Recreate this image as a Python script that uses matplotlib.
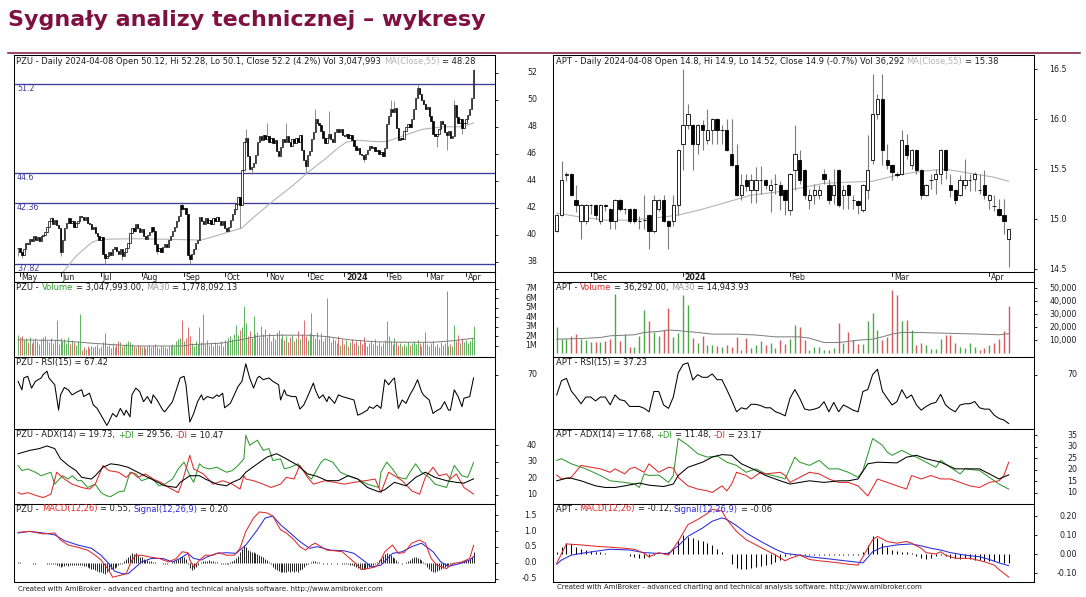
import numpy as np
import matplotlib
matplotlib.use("Agg")
import matplotlib.pyplot as plt
from matplotlib.transforms import blended_transform_factory

# ---------------- PZU, daily bars: index 0 = 2023-04-28 ... 236 = 2024-04-08
pzu_close = [
    39.0, 38.7, 38.5, 38.9, 39.4, 39.3, 39.7, 39.5, 39.9, 39.6, 39.8, 39.5, 39.9, 40.0, 40.2, 40.6, 41.0, 41.2, 40.8, 41.1, 40.7, 40.5,
    38.7, 39.6, 40.5, 40.9, 41.2, 40.9, 41.0, 40.6, 40.9, 41.0, 41.4, 41.3, 41.1, 41.3, 40.9, 40.8, 40.4, 40.6, 40.1, 39.9, 39.6,
    39.8, 38.6, 38.3, 38.4, 38.7, 38.5, 38.9, 39.1, 38.8, 38.6, 38.9, 38.4, 38.7, 39.0, 39.4, 40.1, 40.5, 40.3, 40.8, 40.5, 40.2,
    40.4, 39.9, 39.7, 40.0, 40.2, 40.6, 40.3, 39.3, 38.8, 39.0, 38.7, 39.1, 39.3, 39.1, 39.6, 39.9, 40.3, 40.6, 41.0, 41.4, 42.2, 41.9,
    42.0, 41.5, 38.5, 38.2, 38.6, 38.9, 39.4, 39.6, 41.3, 41.0, 40.8, 41.2, 40.9, 41.1, 40.8, 41.2, 41.0, 41.3, 41.0, 40.7, 41.0,
    40.5, 40.3, 40.6, 41.1, 41.5, 41.9, 42.3, 42.8, 42.2, 44.8, 46.9, 47.2, 45.8, 44.9, 45.0, 45.3, 45.9, 46.9, 47.3, 47.0, 47.4, 47.1,
    47.3, 46.9, 47.2, 46.8, 47.0, 46.2, 45.8, 46.5, 47.1, 46.9, 47.3, 46.9, 46.6, 47.1, 46.8, 47.2, 46.9, 47.4, 46.3, 45.5, 45.1,
    45.9, 46.2, 47.1, 47.6, 48.6, 48.3, 48.1, 47.7, 47.2, 46.8, 47.2, 47.5, 47.1, 46.9, 47.6, 47.8, 47.6, 47.8, 47.4,
    47.3, 47.5, 47.2, 47.4, 47.0, 46.6, 46.3, 46.4, 46.0, 45.9, 45.6, 46.0, 46.3, 46.6, 46.4, 46.5, 46.2, 46.3, 46.0, 46.1, 45.8, 46.4,
    48.2, 48.8, 49.3, 49.1, 49.4, 47.9, 47.0, 47.2, 47.1, 47.7, 48.0, 48.2, 48.0, 48.6, 49.3, 50.1, 50.9, 50.4, 50.0, 49.7, 49.3,
    49.5, 48.8, 48.4, 47.5, 47.3, 47.5, 47.8, 48.4, 48.2, 47.6, 47.4, 47.7, 47.2, 47.3, 49.6, 48.7, 48.3, 48.6, 47.9, 48.3,
    48.6, 48.9, 49.3, 50.1, 52.2,
]
pzu_last_open = 50.12
pzu_hi_idx = [85, 118, 129, 139, 154, 161, 193, 195, 207, 226, 236]
pzu_hi = [42.4, 47.8, 48.3, 48.3, 49.3, 49.2, 50.0, 49.9, 51.2, 50.0, 52.28]
pzu_lo_idx = [0, 2, 22, 45, 54, 72, 89, 115, 121, 149, 179, 217, 222, 230, 236]
pzu_lo = [38.4, 38.3, 38.4, 37.82, 38.1, 38.6, 37.82, 40.5, 44.5, 44.6, 45.4, 46.5, 46.3, 47.5, 50.1]
pzu_levels = [51.2, 44.6, 42.36, 37.82]
pzu_ma_idx = [22, 30, 38, 42, 60, 80, 95, 107, 116, 123, 133, 142, 150, 159, 166, 170, 176, 185, 191, 199, 209, 220, 230, 236]
pzu_ma = [37.0, 38.4, 39.4, 39.65, 39.7, 39.65, 39.6, 40.1, 40.5, 41.4, 42.6, 43.6, 44.6, 45.6, 46.45, 46.85, 47.0, 46.9, 46.9, 47.3, 47.8, 48.0, 48.0, 48.28]
pzu_vol = [  # millions of shares
    2.1, 1.9, 2.0, 1.6, 1.8, 1.4, 1.9, 1.3, 1.6, 1.8, 1.5, 1.2, 1.7, 1.9, 2.0, 1.6, 1.4, 1.8, 1.3, 1.6, 3.7, 1.2,
    1.8, 1.5, 1.7, 1.3, 1.9, 1.2, 1.6, 1.4, 1.1, 1.5, 4.3, 0.5, 0.8, 0.6, 0.9, 0.7, 1.0, 0.8, 0.9, 1.2, 0.7,
    1.0, 1.4, 2.3, 0.9, 1.1, 0.7, 1.3, 0.8, 1.2, 1.5, 1.4, 0.9, 1.1, 1.3, 1.5, 1.4, 1.2, 1.0, 0.8, 1.1, 0.9,
    0.8, 1.0, 0.7, 0.9, 1.1, 0.8, 0.9, 1.2, 0.8, 0.7, 1.0, 0.9, 0.8, 0.7, 1.0, 0.9, 1.2, 1.0, 1.5, 1.7, 1.8, 3.7,
    1.5, 1.8, 3.0, 2.0, 1.3, 1.0, 1.5, 1.2, 3.0, 1.4, 4.3, 1.2, 1.6, 1.1, 1.3, 1.0, 1.4, 1.2, 1.1, 1.5, 1.0,
    1.6, 1.4, 1.8, 2.0, 1.7, 2.2, 3.2, 2.1, 2.6, 3.0, 5.2, 3.4, 2.0, 2.5, 1.8, 4.1, 2.2, 2.4, 1.9, 3.1, 2.2, 2.8,
    1.9, 2.3, 1.5, 2.0, 1.7, 2.4, 2.6, 1.8, 2.2, 1.6, 2.0, 1.4, 1.9, 2.1, 1.5, 1.8, 2.5, 1.7, 2.2, 3.7, 2.0,
    1.6, 2.3, 4.4, 2.1, 1.8, 2.4, 1.7, 2.3, 1.5, 1.9, 6.0, 2.0, 1.4, 1.8, 1.6, 1.3, 2.0, 1.1, 1.7,
    1.2, 1.6, 1.0, 1.4, 1.7, 1.3, 1.5, 1.1, 1.6, 1.2, 1.9, 1.4, 1.0, 1.3, 1.5, 1.2, 1.7, 1.1, 1.4, 1.0, 1.3, 1.6,
    3.6, 2.0, 1.5, 1.2, 1.8, 1.4, 1.1, 1.3, 0.9, 1.2, 1.0, 1.4, 1.1, 1.3, 1.5, 1.2, 1.6, 1.3, 1.0, 1.4, 2.4,
    1.2, 0.9, 1.3, 1.5, 1.0, 1.2, 0.8, 1.4, 1.1, 1.3, 6.8, 1.0, 1.2, 0.9, 3.2, 1.5, 2.1, 1.3, 1.8, 1.4,
    1.6, 1.3, 1.5, 1.8, 3.05,
]
pzu_vma_idx = [0, 20, 38, 60, 85, 90, 105, 115, 125, 135, 150, 160, 172, 185, 200, 215, 225, 236]
pzu_vma = [1.6, 1.55, 1.25, 0.95, 0.95, 1.1, 1.25, 1.6, 2.0, 2.1, 2.1, 1.95, 1.6, 1.4, 1.35, 1.35, 1.5, 1.78]
pzu_rsi_idx = [0, 2, 3, 5, 7, 9, 12, 13, 15, 16, 19, 21, 22, 24, 26, 28, 31, 33, 34, 37, 39, 41, 43, 46, 47, 49, 51, 53, 55, 56,
               58, 59, 61, 63, 65, 67, 69, 70, 72, 75, 76, 78, 80, 82, 84, 86, 87, 89, 91, 93, 95, 96, 98, 101, 103, 104, 106, 107, 110, 112,
               114, 116, 118, 120, 122, 124, 125, 127, 130, 132, 135, 136, 138, 139, 142, 144, 146, 148, 150, 153, 154, 156, 158, 160, 161, 164, 166, 168, 171, 174,
               176, 178, 181, 182, 184, 186, 188, 190, 192, 194, 195, 197, 199, 201, 203, 205, 207, 209, 210, 213, 215, 216, 219, 221, 223, 224, 226, 228, 230, 231,
               234, 236]
pzu_rsi = [64.8, 58.3, 67.4, 68.7, 59.6, 64.8, 67.4, 70.0, 72.6, 67.4, 62.2, 42.7, 54.4, 60.1, 58.3, 54.4, 57.0, 58.3, 53.1, 55.7, 46.6, 44.0, 38.8, 31.0, 33.6, 40.1, 37.5, 44.0, 38.8, 42.7,
           37.5, 54.4, 59.6, 57.0, 49.2, 53.1, 47.9, 54.4, 50.5, 42.7, 41.4, 45.3, 49.2, 58.3, 67.4, 68.7, 62.2, 33.6, 40.1, 49.2, 54.4, 50.5, 53.1, 51.8, 54.4, 53.1, 55.7, 44.5, 47.9, 54.4,
           60.9, 64.8, 78.3, 67.4, 59.6, 67.4, 68.7, 66.1, 67.4, 64.8, 62.2, 50.5, 58.3, 54.4, 53.1, 53.1, 43.5, 46.6, 53.1, 63.5, 58.3, 51.8, 54.4, 49.2, 53.1, 47.9, 54.4, 53.1, 51.8, 50.5,
           38.8, 40.1, 42.7, 45.3, 44.0, 46.6, 44.0, 66.1, 62.2, 66.1, 67.4, 44.0, 50.5, 47.9, 54.4, 59.6, 66.1, 57.0, 54.4, 50.5, 40.1, 41.4, 44.0, 49.2, 42.7, 42.7, 58.3, 53.1, 45.3, 51.8,
           53.1, 67.42]
pzu_adx_idx = [0, 3, 6, 11, 15, 19, 22, 26, 30, 33, 38, 40, 44, 48, 52, 57, 62, 69, 76, 82, 84, 89, 94, 97, 103, 108, 111, 115, 118, 124,
               129, 134, 139, 145, 150, 155, 160, 166, 171, 176, 181, 187, 190, 195, 201, 206, 211, 216, 222, 227, 231, 236]
pzu_adx = [34.9, 35.9, 36.9, 38.0, 39.6, 38.0, 31.8, 27.8, 24.7, 20.6, 19.6, 21.6, 26.7, 28.8, 28.2, 26.7, 23.7, 19.6, 15.5, 14.5, 17.6, 21.6, 21.6, 19.6, 16.5, 15.5, 17.6, 19.6, 23.7, 28.8,
           32.9, 34.9, 31.8, 27.8, 22.7, 21.2, 18.6, 18.6, 21.6, 19.6, 14.5, 11.8, 13.1, 17.6, 15.5, 20.6, 23.7, 20.6, 18.6, 17.6, 17.1, 19.73]
pzu_pdi_idx = [0, 2, 5, 9, 12, 17, 19, 23, 26, 28, 31, 33, 36, 40, 43, 46, 48, 52, 55, 58, 61, 64, 69, 73, 76, 80, 83, 86, 89, 91,
               94, 96, 99, 103, 108, 111, 114, 117, 118, 120, 124, 127, 130, 132, 136, 138, 141, 145, 150, 152, 157, 159, 163, 167, 171, 176, 181, 187, 188, 191,
               194, 197, 201, 203, 206, 209, 213, 216, 222, 226, 230, 233, 236]
pzu_pdi = [27.8, 24.7, 25.7, 23.7, 21.6, 23.7, 16.5, 21.6, 19.6, 21.6, 18.6, 18.6, 14.5, 16.5, 11.4, 9.4, 9.0, 11.8, 12.4, 23.7, 22.7, 18.6, 20.6, 15.5, 16.5, 19.6, 25.7, 29.8, 21.6, 17.6,
           28.8, 26.7, 25.7, 26.7, 23.7, 24.7, 27.8, 31.8, 46.1, 40.0, 43.1, 36.9, 38.0, 30.8, 31.8, 25.7, 26.7, 28.8, 21.6, 19.6, 29.8, 31.8, 29.8, 23.7, 21.6, 19.6, 16.5, 14.5, 23.7, 29.8,
           25.7, 20.6, 19.6, 23.7, 28.8, 23.7, 20.6, 16.5, 14.5, 27.8, 21.6, 20.6, 29.56]
pzu_mdi_idx = [0, 2, 5, 10, 13, 17, 20, 24, 28, 33, 37, 40, 44, 47, 52, 56, 59, 62, 66, 70, 74, 78, 83, 85, 89, 91, 96, 101, 106, 111,
               115, 117, 118, 122, 127, 131, 136, 139, 143, 146, 150, 153, 159, 164, 169, 174, 180, 185, 188, 192, 195, 199, 204, 208, 211, 215, 218, 222, 224, 227,
               231, 236]
pzu_mdi = [11.4, 10.4, 11.4, 9.4, 8.4, 10.4, 23.7, 19.6, 16.5, 14.5, 13.5, 16.5, 27.8, 24.7, 23.7, 20.6, 23.7, 20.6, 22.7, 19.6, 17.6, 14.5, 11.4, 17.6, 33.9, 25.7, 22.7, 16.5, 18.6, 16.5,
           13.5, 21.6, 19.6, 18.6, 16.5, 14.5, 16.5, 20.6, 19.6, 27.8, 20.6, 16.5, 18.6, 17.6, 16.5, 17.6, 18.6, 19.6, 11.4, 23.7, 21.6, 18.6, 12.4, 10.4, 20.6, 26.7, 21.6, 22.7, 19.6, 22.7,
           14.5, 10.47]
pzu_macd_idx = [0, 6, 13, 19, 22, 26, 31, 36, 40, 43, 47, 49, 53, 56, 59, 61, 64, 68, 73, 78, 82, 85, 88, 89, 91, 94, 97, 101, 104, 108,
                112, 115, 118, 122, 125, 129, 132, 136, 139, 143, 146, 149, 152, 154, 157, 160, 164, 168, 171, 174, 178, 181, 185, 187, 190, 194, 197, 200, 204, 208,
                211, 214, 217, 222, 225, 230, 234, 236]
pzu_macd = [0.96, 0.99, 0.91, 0.94, 0.72, 0.56, 0.49, 0.40, 0.24, 0.09, -0.23, -0.45, -0.39, -0.34, 0.09, 0.24, 0.24, 0.19, 0.14, 0.03, 0.14, 0.35, 0.32, 0.09, -0.13, 0.09, 0.24, 0.24, 0.32, 0.24,
            0.24, 0.46, 0.99, 1.41, 1.60, 1.57, 1.47, 1.04, 0.94, 0.72, 0.51, 0.40, 0.56, 0.62, 0.51, 0.40, 0.38, 0.35, 0.19, 0.03, -0.21, -0.18, -0.13, -0.02, 0.35, 0.56, 0.30, 0.32, 0.62, 0.72,
            0.62, 0.14, -0.07, -0.18, -0.02, 0.03, 0.14, 0.55]
pzu_sig_idx = [0, 6, 13, 19, 24, 31, 38, 43, 47, 50, 54, 57, 61, 64, 69, 75, 80, 84, 88, 91, 95, 98, 103, 108, 113, 118, 124, 128, 132, 136,
               141, 146, 151, 155, 162, 169, 174, 180, 183, 188, 194, 199, 204, 209, 215, 219, 223, 229, 234, 236]
pzu_sig = [0.94, 0.99, 0.94, 0.88, 0.70, 0.56, 0.46, 0.24, -0.02, -0.26, -0.34, -0.34, -0.13, 0.03, 0.14, 0.14, 0.03, 0.14, 0.30, 0.14, 0.09, 0.19, 0.30, 0.32, 0.30, 0.56, 1.04, 1.41, 1.47, 1.20,
           0.94, 0.67, 0.46, 0.51, 0.40, 0.38, 0.30, 0.03, -0.13, -0.07, 0.30, 0.35, 0.51, 0.62, 0.35, 0.03, -0.11, -0.02, 0.09, 0.20]
pzu_hist = [
    0.02, 0.02, 0.01, 0.0, 0.01, 0.0, 0.0, -0.01, -0.02, -0.02,
    -0.01, -0.01, 0.0, -0.01, -0.01, -0.02, -0.02, -0.03, -0.04, -0.05,
    -0.08, -0.1, -0.12, -0.1, -0.09, -0.08, -0.1, -0.08, -0.07, -0.06,
    -0.07, -0.08, -0.06, -0.08, -0.1, -0.09, -0.12, -0.15, -0.18, -0.2,
    -0.22, -0.25, -0.28, -0.3, -0.33, -0.35, -0.3, -0.25, -0.2, -0.18,
    -0.15, -0.12, -0.08, -0.05, -0.03, 0.05, 0.12, 0.2, 0.26, 0.3,
    0.28, 0.3, 0.25, 0.2, 0.18, 0.12, 0.1, 0.08, 0.06, 0.05,
    0.03, 0.02, 0.01, 0.0, -0.01, -0.02, -0.03, -0.02, -0.01, 0.0,
    0.02, 0.05, 0.08, 0.12, 0.18, 0.22, 0.2, 0.12, -0.05, -0.15,
    -0.22, -0.18, -0.12, -0.06, 0.0, 0.04, 0.06, 0.05, 0.07, 0.08,
    0.06, 0.05, 0.03, 0.02, 0.0, -0.02, -0.03, -0.02, -0.03, -0.02,
    0.02, 0.05, 0.1, 0.15, 0.22, 0.35, 0.45, 0.55, 0.5, 0.42,
    0.38, 0.35, 0.33, 0.3, 0.28, 0.25, 0.22, 0.18, 0.12, 0.08,
    0.02, -0.05, -0.12, -0.18, -0.22, -0.25, -0.28, -0.3, -0.28, -0.3,
    -0.27, -0.3, -0.26, -0.28, -0.25, -0.28, -0.22, -0.18, -0.12, -0.08,
    -0.04, 0.0, 0.03, 0.05, 0.06, 0.04, 0.02, 0.0, -0.02, -0.01,
    -0.02, -0.01, -0.02, 0.0, -0.01, -0.02, -0.01, 0.0, -0.02, -0.03,
    -0.04, -0.05, -0.06, -0.08, -0.1, -0.12, -0.15, -0.18, -0.2, -0.2,
    -0.18, -0.15, -0.12, -0.1, -0.06, -0.04, 0.02, 0.08, 0.15, 0.22,
    0.28, 0.3, 0.28, 0.25, 0.2, 0.15, 0.08, 0.02, 0.0, -0.02,
    0.0, 0.02, 0.05, 0.1, 0.15, 0.2, 0.18, 0.15, 0.12, 0.08,
    0.02, -0.05, -0.12, -0.2, -0.26, -0.3, -0.3, -0.26, -0.22, -0.18,
    -0.15, -0.12, -0.1, -0.08, -0.05, -0.04, -0.02, -0.01, 0.02, 0.04,
    0.05, 0.07, 0.08, 0.1, 0.12, 0.2, 0.35,
]
pzu_months = ["May", "Jun", "Jul", "Aug", "Sep", "Oct", "Nov", "Dec", "2024", "Feb", "Mar", "Apr"]
pzu_month_idx = [1, 22, 43, 64, 86, 107, 129, 150, 169, 191, 212, 232]

# ---------------- APT, daily bars: index 0 = 2023-11-22 ... 93 = 2024-04-08
apt_open = [14.88, 15.04, 15.44, 15.45, 15.19, 14.98, 14.98, 15.14, 15.14, 14.98,
            15.14, 15.10, 14.98, 15.19, 15.10, 15.10, 15.10, 14.98, 14.99, 15.04,
            14.88, 15.10, 15.19, 14.98, 14.98, 15.14, 15.75, 15.94, 15.94, 15.75,
            15.94, 15.79, 15.89, 16.00, 15.89, 15.89, 15.65, 15.54, 15.24, 15.39,
            15.29, 15.29, 15.39, 15.39, 15.29, 15.35, 15.34, 15.29, 15.09, 15.49,
            15.59, 15.49, 15.19, 15.24, 15.24, 15.45, 15.34, 15.24, 15.49, 15.24,
            15.34, 15.19, 15.18, 15.09, 15.29, 15.59, 16.05, 16.20, 15.59, 15.54,
            15.45, 15.45, 15.74, 15.54, 15.69, 15.49, 15.24, 15.39, 15.40, 15.45,
            15.69, 15.34, 15.29, 15.24, 15.34, 15.39, 15.40, 15.29, 15.34, 15.19,
            15.13, 15.10, 15.04, 14.80]
apt_high = [15.05, 15.58, 15.47, 15.46, 15.34, 15.15, 15.15, 15.15, 15.15, 15.15,
            15.15, 15.11, 15.20, 15.20, 15.11, 15.11, 15.11, 15.03, 15.24, 15.05,
            15.24, 15.20, 15.24, 14.99, 15.24, 15.70, 16.50, 16.15, 15.95, 15.95,
            15.99, 16.10, 16.01, 16.01, 15.94, 16.00, 16.00, 15.75, 15.45, 15.45,
            15.45, 15.52, 15.53, 15.40, 15.40, 15.45, 15.38, 15.30, 15.46, 15.94,
            15.69, 15.50, 15.30, 15.35, 15.34, 15.50, 15.40, 15.50, 15.50, 15.34,
            15.35, 15.24, 15.19, 15.35, 15.84, 16.45, 16.25, 16.45, 15.75, 15.55,
            15.47, 15.89, 15.85, 15.70, 15.70, 15.50, 15.35, 15.45, 15.50, 15.70,
            15.70, 15.45, 15.30, 15.44, 15.60, 15.45, 15.47, 15.45, 15.49, 15.25,
            15.24, 15.20, 15.20, 14.90]
apt_low = [14.87, 15.03, 15.38, 15.23, 15.07, 14.80, 14.95, 15.05, 15.00, 14.95,
           15.08, 14.90, 14.90, 15.08, 15.05, 14.96, 14.96, 14.90, 14.90, 14.70,
           14.86, 15.08, 14.97, 14.70, 14.93, 15.04, 15.49, 15.90, 15.49, 15.65,
           15.69, 15.75, 15.75, 15.75, 15.75, 15.68, 15.53, 15.23, 15.19, 15.28,
           15.16, 15.16, 15.25, 15.30, 15.07, 15.25, 15.09, 15.04, 15.04, 15.29,
           15.35, 15.20, 15.10, 15.15, 15.20, 15.35, 15.15, 15.15, 15.12, 15.10,
           15.10, 15.10, 15.05, 15.07, 15.20, 15.55, 16.00, 15.54, 15.50, 15.39,
           15.42, 15.44, 15.60, 15.50, 15.45, 15.20, 15.23, 15.30, 15.25, 15.35,
           15.40, 15.22, 15.15, 15.23, 15.30, 15.28, 15.28, 15.25, 15.20, 15.10,
           15.08, 15.03, 14.85, 14.52]
apt_close = [15.04, 15.39, 15.45, 15.24, 15.14, 15.14, 15.14, 15.14, 15.04, 15.14,
             15.13, 14.98, 15.19, 15.10, 15.10, 14.98, 14.98, 14.98, 14.99, 14.88,
             15.19, 15.19, 14.98, 14.93, 15.14, 15.69, 15.94, 16.05, 15.75, 15.94,
             15.89, 15.89, 16.00, 15.89, 15.89, 15.69, 15.54, 15.24, 15.34, 15.33,
             15.39, 15.39, 15.39, 15.34, 15.34, 15.35, 15.24, 15.19, 15.45, 15.65,
             15.39, 15.24, 15.24, 15.29, 15.29, 15.40, 15.19, 15.34, 15.14, 15.29,
             15.24, 15.19, 15.14, 15.34, 15.49, 16.05, 16.20, 15.69, 15.54, 15.47,
             15.44, 15.79, 15.64, 15.69, 15.49, 15.24, 15.34, 15.39, 15.45, 15.69,
             15.49, 15.29, 15.19, 15.39, 15.39, 15.39, 15.45, 15.29, 15.24, 15.24,
             15.13, 15.04, 14.98, 14.90]
apt_ma_idx = [0, 5, 10, 15, 20, 25, 30, 35, 40, 45, 50, 55, 60, 65, 70, 75, 80, 85, 90, 93]
apt_ma = [15.06, 15.02, 14.99, 14.99, 15.01, 15.04, 15.10, 15.17, 15.24, 15.27, 15.31, 15.36, 15.37, 15.38, 15.44, 15.48, 15.50, 15.46, 15.42, 15.38]
apt_vol_k = [19.9, 11, 11, 13, 14.5, 11, 10, 8.5, 8.5, 8.5,
             9, 10.5, 45.5, 9.5, 14.5, 4.5, 4.5, 13, 33, 25,
             16, 13.5, 18, 35, 12, 15.5, 45, 37, 11.5, 8,
             13.5, 6, 6, 5.5, 5, 6, 5, 12, 2.5, 11.5,
             4, 6, 9.5, 6.5, 7.5, 4, 10, 7, 10.5, 21.5,
             20, 10, 2.5, 5, 5, 2.5, 2, 4, 23, 8,
             16, 10, 7, 7, 24.5, 31, 17.5, 10, 12.5, 49,
             45, 24.5, 25.5, 18, 6, 7.5, 6.5, 3, 3, 11,
             14, 14, 7.5, 4.5, 3.5, 7.5, 5, 2, 4, 6,
             8, 11, 17, 36.292]
apt_vma_idx = [0, 5, 9, 11, 16, 18, 21, 23, 25, 29, 32, 37, 41, 45, 50, 52, 55, 58, 62, 65, 67, 69, 71, 74, 81, 87, 91, 93]
apt_vma_k = [10.7, 11.2, 12.0, 13.3, 14.1, 15.9, 16.7, 17.8, 17.3, 15.9, 14.6, 14.6, 13.9, 12.5, 12.5, 11.5, 8.1, 8.1, 9.9, 10.7, 12.5, 14.6, 15.9, 15.9, 15.2, 14.6, 14.1, 14.94]
apt_rsi = [56.4, 66.0, 67.5, 59.0, 55.0, 50.5, 55.0, 55.0, 52.4, 55.0,
           55.0, 49.8, 56.4, 53.2, 52.5, 48.7, 48.7, 48.7, 47.5, 45.1,
           58.7, 58.7, 49.7, 47.4, 55.0, 71.1, 76.8, 77.9, 66.4, 70.0,
           68.2, 68.2, 70.5, 66.6, 66.6, 59.9, 52.9, 45.1, 47.8, 46.9,
           50.1, 50.1, 49.2, 47.8, 47.8, 45.2, 44.0, 42.4, 54.2, 60.0,
           54.2, 47.0, 46.2, 46.9, 48.0, 51.9, 45.1, 51.4, 45.1, 49.7,
           48.0, 46.2, 45.1, 58.7, 60.0, 70.0, 73.6, 59.0, 54.2, 49.7,
           51.9, 59.9, 54.2, 56.4, 49.8, 46.2, 48.7, 50.5, 51.4, 56.8,
           49.7, 47.0, 45.1, 49.7, 50.5, 50.5, 52.0, 47.8, 46.9, 46.9,
           42.9, 40.7, 39.6, 37.23]
apt_adx_idx = [0, 2, 3, 5, 8, 10, 12, 14, 17, 19, 22, 24, 25, 27, 30, 32, 34, 36, 38, 41, 43, 46, 48, 50, 52, 55, 58, 60, 62, 64,
               66, 70, 72, 74, 76, 79, 82, 84, 87, 89, 91, 93]
apt_adx = [15.1, 16.2, 16.2, 15.1, 12.9, 12.2, 12.2, 12.9, 14.1, 13.2, 12.6, 13.7, 17.4, 21.0, 23.2, 25.4, 26.5, 26.2, 22.5, 19.6, 17.4, 15.1, 13.7, 14.4, 15.1, 14.4, 15.1, 15.1, 15.9, 22.5,
           23.2, 22.9, 25.4, 26.2, 24.7, 23.2, 20.3, 20.3, 20.3, 18.1, 15.9, 17.68]
apt_pdi_idx = [0, 1, 3, 6, 9, 11, 14, 16, 17, 18, 19, 21, 23, 24, 25, 27, 29, 31, 33, 35, 37, 39, 41, 43, 46, 47, 49, 50, 52, 54,
               56, 58, 60, 62, 63, 65, 67, 68, 69, 71, 73, 74, 76, 78, 79, 81, 83, 84, 87, 89, 91, 93]
apt_pdi = [24.0, 24.7, 22.5, 20.3, 17.4, 15.1, 14.4, 13.7, 12.2, 18.1, 17.4, 17.6, 14.4, 17.4, 33.5, 30.6, 26.9, 25.4, 25.9, 23.2, 21.8, 18.8, 20.3, 18.1, 16.6, 15.9, 25.4, 23.2, 21.8, 24.0,
           20.3, 20.3, 18.8, 16.6, 19.6, 33.5, 30.6, 27.6, 26.2, 28.4, 26.2, 25.4, 23.2, 21.0, 24.0, 21.0, 18.1, 20.3, 19.6, 16.6, 13.7, 11.48]
apt_mdi_idx = [0, 1, 3, 5, 7, 9, 11, 12, 14, 15, 16, 18, 19, 21, 23, 24, 25, 27, 29, 31, 32, 34, 35, 36, 37, 39, 40, 42, 43, 46,
               47, 48, 50, 52, 54, 56, 58, 60, 62, 64, 66, 68, 70, 72, 73, 75, 77, 79, 81, 83, 85, 87, 89, 91, 92, 93]
apt_mdi = [17.6, 15.9, 16.6, 21.8, 21.0, 20.3, 18.8, 20.3, 18.1, 20.3, 21.0, 18.8, 22.5, 18.8, 21.0, 20.6, 16.6, 12.9, 11.5, 10.7, 10.0, 12.9, 10.7, 13.7, 18.8, 17.4, 15.9, 18.8, 18.1, 18.8,
           17.4, 14.4, 16.6, 18.8, 18.1, 15.9, 14.4, 14.4, 12.9, 8.5, 15.9, 14.4, 12.9, 11.5, 17.4, 15.9, 17.4, 15.9, 15.9, 14.4, 12.9, 12.2, 14.4, 15.1, 17.4, 23.17]
apt_macd_idx = [0, 1, 2, 5, 7, 9, 11, 14, 16, 18, 19, 21, 23, 25, 27, 29, 31, 32, 34, 35, 37, 39, 41, 43, 45, 47, 48, 50, 52, 54,
                56, 58, 60, 62, 63, 65, 66, 68, 70, 72, 73, 75, 76, 78, 79, 80, 82, 85, 88, 90, 91, 93]
apt_macd = [-0.048, 0.005, 0.055, 0.050, 0.045, 0.041, 0.038, 0.032, 0.027, 0.005, -0.013, 0.009, -0.004, 0.068, 0.157, 0.184, 0.216, 0.238, 0.229, 0.184,
            0.121, 0.077, 0.050, 0.023, -0.004, -0.034, -0.021, -0.004, -0.027, -0.034, -0.039, -0.045, -0.052, -0.057, -0.013, 0.077, 0.095, 0.068, 0.059, 0.068,
            0.059, 0.032, 0.009, 0.002, 0.014, -0.004, -0.021, -0.021, -0.039, -0.057, -0.080, -0.12]
apt_sig_idx = [0, 1, 3, 6, 9, 11, 15, 18, 21, 23, 25, 27, 30, 32, 34, 35, 37, 39, 42, 45, 47, 50, 52, 55, 58, 61, 63, 64, 65, 67,
               70, 73, 75, 77, 79, 81, 84, 87, 89, 91, 93]
apt_sig = [-0.052, -0.030, -0.004, 0.009, 0.020, 0.027, 0.023, 0.009, 0.005, 0.005, 0.045, 0.095, 0.139, 0.175, 0.193, 0.184, 0.152, 0.113, 0.068, 0.027,
           0.005, -0.004, -0.013, -0.021, -0.030, -0.039, -0.045, -0.016, 0.014, 0.038, 0.050, 0.055, 0.045, 0.032, 0.023, 0.009, -0.004, -0.013, -0.027, -0.045,
           -0.06]
apt_hist = [0.01, 0.04, 0.06, 0.055, 0.04, 0.03, 0.025, 0.02, 0.015, 0.01,
            0.005, 0.003, 0.003, 0.002, 0.0, -0.01, -0.015, -0.02, -0.02, -0.015,
            -0.005, 0.003, 0.005, 0.01, 0.03, 0.07, 0.1, 0.09, 0.085, 0.075,
            0.07, 0.06, 0.05, 0.03, 0.01, 0.0, -0.05, -0.07, -0.075, -0.075,
            -0.07, -0.065, -0.06, -0.055, -0.05, -0.04, -0.03, -0.01, -0.005, -0.005,
            -0.004, -0.004, -0.004, -0.005, -0.005, -0.005, -0.005, -0.005, -0.005, -0.005,
            -0.005, -0.005, -0.005, 0.01, 0.05, 0.095, 0.085, 0.06, 0.04, 0.025,
            0.02, 0.015, 0.01, 0.005, -0.01, -0.02, -0.025, -0.02, -0.01, -0.005,
            -0.01, -0.02, -0.02, -0.025, -0.02, -0.025, -0.03, -0.03, -0.035, -0.035,
            -0.035, -0.04, -0.045, -0.045]
apt_months = ["Dec", "2024", "Feb", "Mar", "Apr"]
apt_month_idx = [7, 26, 48, 69, 89]

for name, seq, n in [("pzu_vol", pzu_vol, 237), ("pzu_hist", pzu_hist, 237), ("pzu_close", pzu_close, 237),
                     ("apt_open", apt_open, 94), ("apt_high", apt_high, 94), ("apt_low", apt_low, 94),
                     ("apt_close", apt_close, 94), ("apt_vol", apt_vol_k, 94), ("apt_rsi", apt_rsi, 94), ("apt_hist", apt_hist, 94)]:
    assert len(seq) == n, (name, len(seq))
for a, b in [(pzu_rsi_idx, pzu_rsi), (pzu_adx_idx, pzu_adx), (pzu_pdi_idx, pzu_pdi), (pzu_mdi_idx, pzu_mdi),
             (pzu_macd_idx, pzu_macd), (pzu_sig_idx, pzu_sig), (apt_adx_idx, apt_adx), (apt_pdi_idx, apt_pdi),
             (apt_mdi_idx, apt_mdi), (apt_macd_idx, apt_macd), (apt_sig_idx, apt_sig), (apt_vma_idx, apt_vma_k)]:
    assert len(a) == len(b), (len(a), len(b))

# ---------------- drawing
W, H = 1086, 597
fig = plt.figure(figsize=(W / 100, H / 100), dpi=100)
renderer = fig.canvas.get_renderer()

INK = "#1e1e1e"
GREEN = "#2f9a2f"
RED = "#e02a2a"
BLUE = "#2a2ae0"
LEVEL = "#3c3ca0"
VGREEN = "#4aa84a"
VRED = "#d65a5a"
CAP = 6.05    # caption text
TICK = 5.7    # axis labels
PX = 0.72     # points per pixel


def px_axes(x0, y0, x1, y1):
    ax = fig.add_axes([x0 / W, 1 - y1 / H, (x1 - x0) / W, (y1 - y0) / H])
    ax.set_xticks([])
    ax.set_yticks([])
    for s in ax.spines.values():
        s.set_linewidth(0.75)
        s.set_color("black")
    return ax


def text_width(s, size, weight="normal"):
    if not s:
        return 0.0
    t = fig.text(0, 0, s + "|", fontsize=size, weight=weight)
    b = fig.text(0, 0, "|", fontsize=size, weight=weight)
    w = t.get_window_extent(renderer).width - b.get_window_extent(renderer).width
    t.remove()
    b.remove()
    return w


def chain_text(x0, y, pieces, size=CAP):
    prefix = ""
    for s, c in pieces:
        body = s.lstrip(" ")
        prefix += s[: len(s) - len(body)]
        x = x0 + text_width(prefix, size)
        fig.text(x / W, 1 - y / H, body, fontsize=size, color=c, ha="left", va="baseline")
        prefix += body


def right_labels(ax, vals, labels, x_right):
    trans = blended_transform_factory(fig.transFigure, ax.transData)
    for v, s in zip(vals, labels):
        ax.text(x_right / W, v, s, transform=trans, ha="right", va="center",
                fontsize=TICK, color=INK, clip_on=False)
    ax.set_yticks(vals)
    ax.tick_params(axis="y", left=False, right=True, labelleft=False, labelright=False,
                   length=2.5, width=0.6, direction="out")


def candles(ax, o, h, l, c, width, edge_lw, wick_lw):
    x = np.arange(len(c))
    ax.vlines(x, l, h, color="#7c7c7c", lw=wick_lw, zorder=2)
    up = c >= o
    ax.bar(x[up], (c - o)[up], width, bottom=o[up], facecolor="white",
           edgecolor="black", lw=edge_lw, zorder=3)
    ax.bar(x[~up], (o - c)[~up], width, bottom=c[~up], facecolor="black",
           edgecolor="black", lw=edge_lw, zorder=3)


def month_strip(ax, idx, names, xlim, offset):
    ax.set_xlim(*xlim)
    ax.set_ylim(0, 1)
    tr = blended_transform_factory(ax.transData, ax.transAxes)
    for i, name in zip(idx, names):
        ax.plot([i, i], [0.62, 1.0], color="black", lw=0.6, transform=tr)
        ax.text(i + offset, 0.16, name, transform=tr, fontsize=TICK, color=INK,
                ha="left", va="baseline", weight="bold" if name == "2024" else "normal")


def panel(x0, x1, lab_right, price_lab_right, d):
    n = len(d["close"])
    xlim = d["xlim"]
    x = np.arange(n)

    # price
    ax = px_axes(x0, 54.5, x1, 272)
    ax.set_xlim(*xlim)
    ax.set_ylim(*d["plim"])
    for lv in d.get("levels", []):
        ax.axhline(lv, color=LEVEL, lw=0.95, zorder=1)
        ax.annotate(f"{lv:g}", xy=(0, lv), xycoords=("axes fraction", "data"),
                    xytext=(3 * PX, -7 * PX), textcoords="offset points",
                    fontsize=TICK, color=LEVEL, va="baseline", ha="left")
    ax.plot(d["ma_idx"], d["ma"], color="#b4b4b4", lw=0.8, zorder=2)
    candles(ax, d["open"], d["high"], d["low"], d["close"], d["cw"], d["elw"], d["wlw"])
    right_labels(ax, d["pticks"], d["plabels"], price_lab_right)

    # month strip
    st = px_axes(x0, 272, x1, 282)
    month_strip(st, d["month_idx"], d["months"], xlim, d["moff"])

    # volume
    av = px_axes(x0, 282, x1, 357)
    av.set_xlim(*xlim)
    av.set_ylim(*d["vlim"])
    up = np.r_[True, d["close"][1:] >= d["close"][:-1]]
    cols = np.where(up, VGREEN, VRED)
    av.vlines(x, 0, d["vol"], colors=cols, lw=d["vlw"])
    av.plot(d["vma_idx"], d["vma"], color="#7a7a7a", lw=0.7)
    right_labels(av, d["vticks"], d["vlabels"], lab_right)

    # RSI
    ar = px_axes(x0, 357, x1, 429)
    ar.set_xlim(*xlim)
    ar.set_ylim(*d["rlim"])
    ar.plot(d["rsi_idx"], d["rsi"], color="black", lw=0.75)
    right_labels(ar, [70], ["70"], lab_right)

    # ADX
    aa = px_axes(x0, 429, x1, 504)
    aa.set_xlim(*xlim)
    aa.set_ylim(*d["alim"])
    aa.plot(d["pdi_idx"], d["pdi"], color=GREEN, lw=0.75)
    aa.plot(d["mdi_idx"], d["mdi"], color=RED, lw=0.75)
    aa.plot(d["adx_idx"], d["adx"], color="black", lw=0.75)
    right_labels(aa, d["aticks"], [str(v) for v in d["aticks"]], lab_right)

    # MACD
    am = px_axes(x0, 504, x1, 582)
    am.set_xlim(*xlim)
    am.set_ylim(*d["mlim"])
    am.vlines(x, 0, d["hist"], color="black", lw=d["hlw"])
    am.plot(d["sig_idx"], d["sig"], color=BLUE, lw=0.75)
    am.plot(d["macd_idx"], d["macd"], color=RED, lw=0.75)
    right_labels(am, d["mticks"], d["mlabels"], lab_right)

    # panel captions
    t = d["ticker"]
    tx = x0 + 2.5
    chain_text(tx, 64, [(d["header"], INK), ("MA(Close,55)", "#b4b4b4"), (d["ma_txt"], INK)])
    chain_text(tx, 290, [(t + " - ", INK), ("Volume", d["vol_col"]), (d["vol_txt"], INK),
                         ("MA30", "#9a9a9a"), (d["vma_txt"], INK)])
    chain_text(tx, 365, [(d["rsi_txt"], INK)])
    chain_text(tx, 437.5, [(d["adx_txt"], INK), ("+DI", GREEN), (d["pdi_txt"], INK),
                           ("-DI", RED), (d["mdi_txt"], INK)])
    chain_text(tx, 511.5, [(t + " - ", INK), ("MACD(12,26)", RED), (d["macd_txt"], INK),
                           ("Signal(12,26,9)", BLUE), (d["sig_txt"], INK)])


# PZU arrays
pc = np.array(pzu_close)
po = np.r_[pc[0], pc[:-1]]
po[-1] = pzu_last_open
ph = np.maximum(po, pc)
pl = np.minimum(po, pc)
ph[pzu_hi_idx] = pzu_hi
pl[pzu_lo_idx] = pzu_lo

pzu = dict(
    ticker="PZU", close=pc, open=po, high=ph, low=pl, xlim=(-2.1, 247.1), plim=(37.23, 53.36),
    levels=pzu_levels, ma_idx=pzu_ma_idx, ma=pzu_ma, cw=0.7, elw=0.5, wlw=0.6,
    pticks=[38, 40, 42, 44, 46, 48, 50, 52], plabels=["38", "40", "42", "44", "46", "48", "50", "52"],
    month_idx=pzu_month_idx, months=pzu_months, moff=0.9,
    vol=np.array(pzu_vol), vlim=(-0.215, 7.74), vlw=0.62, vma_idx=pzu_vma_idx, vma=pzu_vma,
    vticks=[1, 2, 3, 4, 5, 6, 7], vlabels=["1M", "2M", "3M", "4M", "5M", "6M", "7M"],
    rsi_idx=pzu_rsi_idx, rsi=pzu_rsi, rlim=(28.2, 83.5),
    adx_idx=pzu_adx_idx, adx=pzu_adx, pdi_idx=pzu_pdi_idx, pdi=pzu_pdi, mdi_idx=pzu_mdi_idx, mdi=pzu_mdi,
    alim=(4.5, 49.85), aticks=[10, 20, 30, 40],
    hist=np.array(pzu_hist), hlw=0.6, macd_idx=pzu_macd_idx, macd=pzu_macd, sig_idx=pzu_sig_idx, sig=pzu_sig,
    mlim=(-0.60, 1.85), mticks=[-0.5, 0.0, 0.5, 1.0, 1.5], mlabels=["-0.5", "0.0", "0.5", "1.0", "1.5"],
    header="PZU - Daily 2024-04-08 Open 50.12, Hi 52.28, Lo 50.1, Close 52.2 (4.2%) Vol 3,047,993 ",
    ma_txt=" = 48.28", vol_col=GREEN, vol_txt=" = 3,047,993.00, ", vma_txt=" = 1,778,092.13",
    rsi_txt="PZU - RSI(15) = 67.42", adx_txt="PZU - ADX(14) = 19.73, ", pdi_txt=" = 29.56, ", mdi_txt=" = 10.47",
    macd_txt=" = 0.55, ", sig_txt=" = 0.20",
)

apt = dict(
    ticker="APT", close=np.array(apt_close), open=np.array(apt_open), high=np.array(apt_high),
    low=np.array(apt_low), xlim=(-0.76, 98.2), plim=(14.47, 16.65),
    ma_idx=apt_ma_idx, ma=apt_ma, cw=0.68, elw=0.6, wlw=0.8,
    pticks=[14.5, 15.0, 15.5, 16.0, 16.5], plabels=["14.5", "15.0", "15.5", "16.0", "16.5"],
    month_idx=apt_month_idx, months=apt_months, moff=0.35,
    vol=np.array(apt_vol_k), vlim=(-3.1, 54.95), vlw=1.0, vma_idx=apt_vma_idx, vma=apt_vma_k,
    vticks=[10, 20, 30, 40, 50], vlabels=["10,000", "20,000", "30,000", "40,000", "50,000"],
    rsi_idx=np.arange(len(apt_rsi)), rsi=apt_rsi, rlim=(33.6, 81.8),
    adx_idx=apt_adx_idx, adx=apt_adx, pdi_idx=apt_pdi_idx, pdi=apt_pdi, mdi_idx=apt_mdi_idx, mdi=apt_mdi,
    alim=(5.0, 37.65), aticks=[10, 15, 20, 25, 30, 35],
    hist=np.array(apt_hist), hlw=0.75, macd_idx=apt_macd_idx, macd=apt_macd, sig_idx=apt_sig_idx, sig=apt_sig,
    mlim=(-0.146, 0.266), mticks=[-0.1, 0.0, 0.1, 0.2], mlabels=["-0.10", "0.00", "0.10", "0.20"],
    header="APT - Daily 2024-04-08 Open 14.8, Hi 14.9, Lo 14.52, Close 14.9 (-0.7%) Vol 36,292 ",
    ma_txt=" = 15.38", vol_col=RED, vol_txt=" = 36,292.00, ", vma_txt=" = 14,943.93",
    rsi_txt="APT - RSI(15) = 37.23", adx_txt="APT - ADX(14) = 17.68, ", pdi_txt=" = 11.48, ", mdi_txt=" = 23.17",
    macd_txt=" = -0.12, ", sig_txt=" = -0.06",
)

panel(14, 495, 537, 537, pzu)
panel(553, 1034, 1077, 1067, apt)

# title, rule and footers
fig.text(8 / W, 1 - 26 / H, "Sygnały analizy technicznej – wykresy", fontsize=16.0,
         weight="bold", color="#7f1040", ha="left", va="baseline")
fig.add_artist(plt.Line2D([8 / W, 1080 / W], [1 - 52.5 / H] * 2, color="#7f1040", lw=1.1))
foot = "Created with AmiBroker - advanced charting and technical analysis software. http://www.amibroker.com"
fig.text(18 / W, 1 - 591 / H, foot, fontsize=5.05, color=INK, ha="left", va="baseline")
fig.text(557 / W, 1 - 589.5 / H, foot, fontsize=5.05, color=INK, ha="left", va="baseline")

fig.savefig("out.png", dpi=100, facecolor="white")
